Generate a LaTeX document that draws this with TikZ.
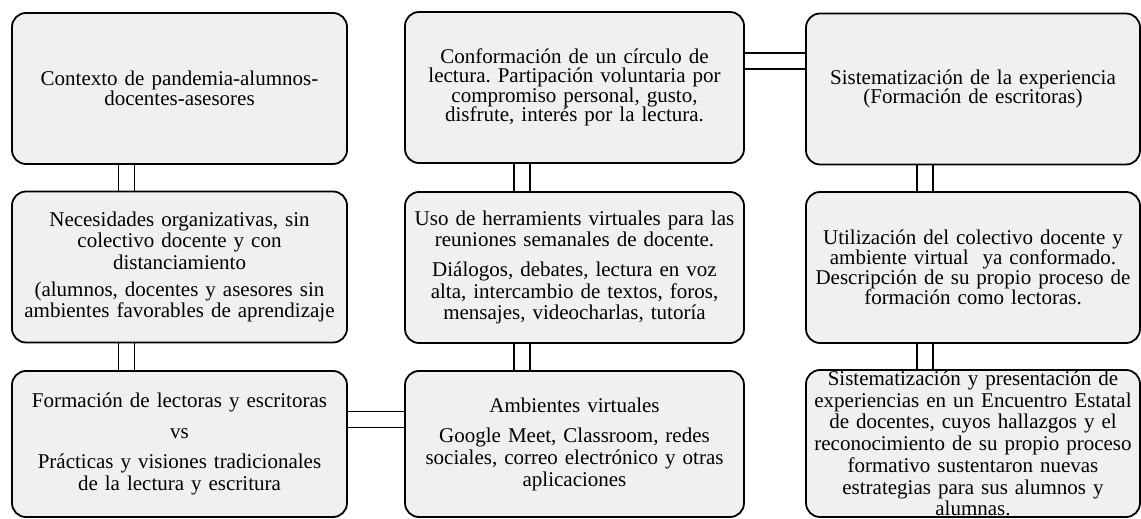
\documentclass[tikz,border=0pt]{standalone}
\usepackage{fontspec}
\setmainfont{Liberation Serif}
\usetikzlibrary{backgrounds}
\definecolor{boxfill}{RGB}{240,240,240}
\newcommand{\tightlines}{\lineskiplimit=-100pt\relax}
\frenchspacing
\begin{document}
\begin{tikzpicture}[x=1pt,y=-1pt,
  box/.style={draw=black, line width=1.8pt, fill=boxfill, rounded corners=14pt,
    inner xsep=2pt, inner ysep=0pt, align=center, minimum height=151pt},
  lsk/.style={font={\fontsize{21}{#1}\selectfont\tightlines\frenchspacing}},
  colA/.style={minimum width=335pt, text width=331pt},
  colB/.style={minimum width=339pt, text width=335pt},
  colC/.style={minimum width=334pt, text width=330pt},
  conn/.style={line width=1.4pt, double=white, double distance=14.6pt}
]
\useasboundingbox (0,0) rectangle (1141,519);

% row 1
\node[box, colA, lsk=20] (A) at (179.5,88.5)
  {Contexto de pandemia-alumnos-\\docentes-asesores};
\node[box, colB, lsk=19.5] (B) at (574.5,87.5)
  {Conformación de un círculo de\\lectura. Partipación voluntaria por\\compromiso personal, gusto,\\disfrute, interés por la lectura.};
\node[box, colC, lsk=19.5] (C) at (973,89)
  {Sistematización de la experiencia\\(Formación de escritoras)};

% row 2
\node[box, colA, lsk=21.7] (D) at (179.5,267)
  {Necesidades organizativas, sin\\colectivo docente y con\\distanciamiento\\[5pt](alumnos, docentes y asesores sin\\ambientes favorables de aprendizaje};
\node[box, colB, lsk=21.7] (E) at (574.5,267.5)
  {Uso de herramients virtuales para las\\reuniones semanales de docente.\\[8pt]Diálogos, debates, lectura en voz\\alta, intercambio de textos, foros,\\mensajes, videocharlas, tutoría};
\node[box, colC, lsk=20] (F) at (973,267.5)
  {Utilización del colectivo docente y\\ambiente virtual~ ya conformado.\\Descripción de su propio proceso de\\formación como lectoras.};

% row 3
\node[box, colA, lsk=21.7, minimum height=146pt] (G) at (179.5,444)
  {Formación de lectoras y escritoras\\[9pt]vs\\[9pt]Prácticas y visiones tradicionales\\de la lectura y escritura};
\node[box, colB, lsk=21.7, minimum height=146pt] (H) at (574.5,444)
  {Ambientes virtuales\\[9pt]Google Meet, Classroom, redes\\sociales, correo electrónico y otras\\aplicaciones};
\node[box, colC, lsk=21.7, minimum height=147pt] (I) at (973,443.5)
  {Sistematización y presentación de\\experiencias en un Encuentro Estatal\\de docentes, cuyos hallazgos y el\\reconocimiento de su propio proceso\\formativo sustentaron nuevas\\estrategias para sus alumnos y\\alumnas.};

% connectors
\coordinate (v1) at (126.5,0);
\coordinate (v2) at (522,0);
\coordinate (v3) at (925,0);
\coordinate (h1) at (0,61);
\coordinate (h2) at (0,419.7);
\begin{pgfonlayer}{background}
\draw[conn] (A.south -| v1) -- (D.north -| v1);
\draw[conn] (D.south -| v1) -- (G.north -| v1);
\draw[conn] (B.south -| v2) -- (E.north -| v2);
\draw[conn] (E.south -| v2) -- (H.north -| v2);
\draw[conn] (C.south -| v3) -- (F.north -| v3);
\draw[conn] (F.south -| v3) -- (I.north -| v3);
\draw[conn] (B.east |- h1) -- (C.west |- h1);
\draw[conn] (G.east |- h2) -- (H.west |- h2);
\end{pgfonlayer}
\end{tikzpicture}
\end{document}
